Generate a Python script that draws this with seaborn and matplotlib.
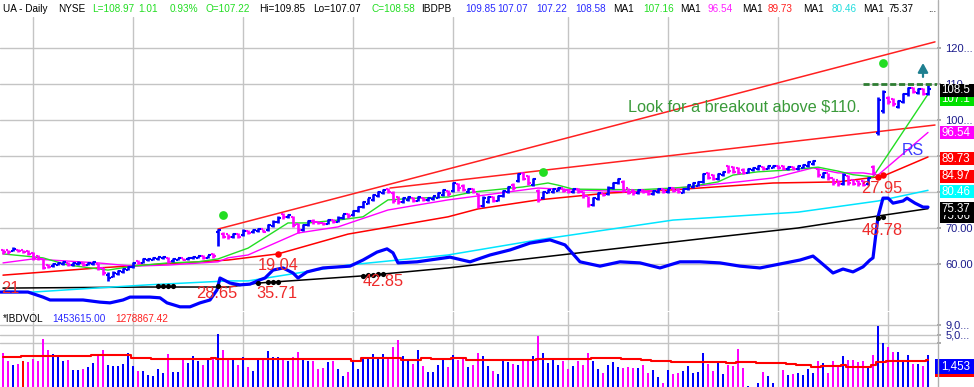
import numpy as np
import pandas as pd
import matplotlib
matplotlib.use("Agg")
import matplotlib.pyplot as plt
from matplotlib.patches import Rectangle
from matplotlib.lines import Line2D
import seaborn as sns

sns.set_theme(style="white")
plt.rcParams["font.family"] = ["Liberation Sans", "DejaVu Sans"]

# ---------------- data ----------------
direction = list("MMBMRMMMMM" "BBBMBBMBBM" "MBBBBBBMBB" "BBBMBBMBBB" "MBMBMMBMBM"
                 "BBMBBBMBMM" "BBMMMBMBBM" "BBBBBBBMMM" "BBMBMBBBBM" "BMMBMMBBMB"
                 "BBMBMMBMBB" "BBMMBMMMBB" "MBBBMMMBMM" "BBMBMMBBBB" "BMMBBMMMMB"
                 "BBMBBMMBMB" "BBBMBMMMBM" "MMMBMBBMMB" "BBMBMB")

highs = [64.2, 64.0, 64.6, 64.2, 64.0, 63.8, 63.2, 62.5, 61.8, 60.0,
         60.4, 60.6, 60.8, 60.6, 60.5, 60.7, 60.5, 60.6, 60.9, 60.2,
         59.2, 57.8, 58.0, 58.4, 58.8, 59.5, 60.6, 61.0, 61.6, 61.8,
         62.0, 62.0, 62.3, 62.0, 61.6, 61.8, 61.8, 62.0, 62.2, 62.3,
         62.4, 62.6, 63.0, 69.8, 68.8, 68.4, 68.5, 68.6, 69.6, 69.5,
         69.8, 70.0, 69.8, 71.0, 72.2, 73.2, 74.2, 74.0, 73.4, 71.5,
         71.2, 72.3, 72.4, 72.0, 71.8, 72.6, 72.6, 73.2, 74.0, 74.2,
         75.0, 76.2, 77.4, 78.4, 79.4, 80.2, 80.8, 81.2, 80.2, 79.0,
         78.6, 78.8, 78.6, 78.8, 78.6, 78.7, 79.0, 80.0, 80.8, 80.6,
         82.8, 82.6, 82.2, 81.1, 81.0, 79.8, 78.8, 79.0, 79.0, 79.2,
         80.6, 81.8, 82.4, 85.4, 85.6, 84.8, 84.0, 80.8, 80.4, 80.8,
         81.2, 81.4, 81.2, 80.8, 81.2, 81.0, 80.4, 79.0, 78.6, 80.0,
         79.8, 81.6, 82.8, 84.0, 83.2, 81.2, 80.8, 80.8, 80.8, 80.4,
         80.6, 81.0, 81.0, 81.2, 81.4, 81.0, 81.0, 82.2, 82.8, 83.0,
         85.4, 85.6, 85.0, 85.2, 85.8, 87.6, 87.2, 87.0, 86.6, 86.8,
         87.0, 87.4, 87.2, 87.4, 87.5, 87.4, 87.4, 87.3, 87.2, 87.4,
         87.8, 88.6, 89.0, 86.8, 85.6, 85.4, 84.0, 83.4, 85.2, 84.6,
         83.6, 83.4, 83.2, 84.2, 87.5, 106.4, 108.4, 106.6, 106.2, 105.6,
         107.6, 109.2, 109.2, 109.0, 109.0, 109.85]

lows = [62.8, 62.8, 63.5, 63.2, 63.0, 62.6, 61.2, 61.0, 58.5, 58.8,
        59.3, 59.6, 59.8, 59.5, 59.5, 59.8, 59.4, 59.6, 59.8, 58.4,
        57.0, 55.4, 56.3, 57.0, 57.5, 58.2, 59.0, 59.9, 60.2, 60.8,
        61.0, 61.2, 61.4, 60.3, 60.6, 61.0, 61.0, 61.1, 61.4, 61.6,
        61.4, 61.6, 61.8, 65.0, 67.2, 67.0, 67.3, 67.2, 67.8, 68.4,
        68.6, 68.9, 68.8, 69.2, 70.4, 71.4, 72.6, 72.8, 70.2, 68.6,
        69.2, 70.6, 71.2, 71.0, 70.8, 71.0, 71.5, 71.6, 72.6, 72.9,
        73.4, 74.4, 75.6, 76.6, 77.6, 78.6, 79.4, 79.8, 77.0, 76.6,
        77.0, 77.5, 77.2, 77.4, 77.4, 77.5, 77.9, 78.2, 78.9, 79.0,
        80.0, 80.4, 80.2, 79.8, 79.6, 75.6, 75.8, 77.0, 77.2, 77.4,
        78.6, 79.8, 80.6, 82.8, 83.2, 82.0, 81.8, 77.2, 78.0, 79.6,
        79.8, 80.2, 80.0, 79.6, 79.8, 79.8, 78.4, 75.8, 76.2, 77.8,
        78.8, 79.2, 80.8, 82.2, 80.0, 79.4, 79.2, 79.4, 79.6, 79.2,
        79.3, 79.8, 79.6, 79.8, 80.0, 79.6, 79.6, 80.6, 81.2, 81.6,
        82.6, 83.6, 83.2, 83.4, 84.4, 85.2, 85.2, 85.0, 85.0, 85.2,
        85.8, 86.2, 86.2, 86.3, 86.6, 86.4, 86.0, 86.1, 86.0, 86.2,
        86.6, 87.0, 87.6, 84.2, 84.0, 83.4, 82.0, 81.8, 81.9, 82.0,
        81.9, 81.8, 81.6, 82.0, 84.6, 95.8, 102.0, 104.4, 104.0, 103.2,
        104.6, 106.8, 107.4, 107.2, 106.9, 107.07]

opens = [63.8, 63.8, 63.6, 64.0, 63.8, 63.5, 63.0, 62.2, 61.5, 59.8,
         59.5, 59.8, 60.0, 60.4, 59.7, 60.0, 60.3, 59.8, 60.0, 60.0,
         59.0, 57.0, 56.5, 57.3, 57.8, 58.4, 59.2, 60.8, 60.4, 61.0,
         61.2, 61.4, 61.6, 61.8, 60.8, 61.2, 61.6, 61.3, 61.6, 61.8,
         62.2, 61.8, 62.8, 69.0, 68.4, 68.2, 67.5, 68.3, 68.0, 69.2,
         68.8, 69.1, 69.6, 69.4, 70.6, 71.6, 73.8, 73.0, 73.0, 71.0,
         69.5, 70.8, 72.0, 71.8, 71.5, 71.2, 72.3, 71.8, 72.8, 73.8,
         73.6, 74.6, 75.8, 76.8, 77.8, 78.8, 79.6, 80.8, 79.8, 78.5,
         77.2, 77.7, 78.4, 77.6, 78.3, 77.7, 78.1, 78.4, 79.1, 80.4,
         80.2, 82.2, 81.8, 80.0, 80.8, 79.5, 76.2, 77.3, 78.7, 77.6,
         78.8, 80.0, 82.0, 83.0, 85.2, 84.4, 82.0, 80.4, 78.2, 79.8,
         80.0, 80.4, 81.0, 80.5, 80.0, 80.8, 80.1, 78.8, 76.4, 78.0,
         79.6, 79.4, 81.0, 82.4, 82.8, 81.0, 80.5, 79.6, 80.6, 80.1,
         79.5, 80.0, 80.8, 80.0, 81.2, 80.6, 79.8, 80.8, 81.4, 81.8,
         82.8, 85.2, 84.6, 83.6, 84.6, 87.2, 87.0, 86.8, 86.2, 85.4,
         86.0, 86.4, 87.0, 86.5, 86.8, 87.2, 87.2, 86.3, 87.0, 86.4,
         86.8, 87.2, 87.8, 86.5, 84.2, 85.2, 83.8, 83.2, 82.2, 84.4,
         83.2, 83.0, 83.0, 82.2, 87.0, 96.5, 102.4, 106.2, 105.8, 103.5,
         104.9, 107.1, 109.0, 107.5, 108.7, 107.22]

closes = [63.2, 63.3, 64.3, 63.5, 63.2, 62.9, 61.6, 61.4, 59.0, 59.2,
          60.1, 60.3, 60.5, 59.8, 60.2, 60.4, 59.7, 60.3, 60.6, 58.8,
          57.4, 56.2, 57.6, 58.0, 58.5, 59.2, 60.3, 60.2, 61.3, 61.5,
          61.8, 61.9, 62.0, 60.6, 61.4, 61.6, 61.2, 61.8, 62.0, 62.2,
          61.7, 62.4, 62.1, 69.4, 67.6, 67.4, 68.2, 67.5, 69.2, 68.7,
          69.4, 69.6, 69.0, 70.7, 71.8, 72.9, 73.0, 73.6, 70.8, 69.4,
          70.8, 71.9, 71.6, 71.3, 71.0, 72.3, 71.8, 72.9, 73.8, 73.2,
          74.8, 75.9, 77.1, 78.2, 79.1, 80.0, 80.5, 80.0, 77.6, 77.2,
          78.2, 78.5, 77.6, 78.5, 77.7, 78.4, 78.8, 79.7, 80.5, 79.4,
          82.4, 81.0, 80.6, 80.9, 79.9, 76.2, 78.3, 78.7, 77.6, 78.9,
          80.3, 81.5, 81.0, 85.0, 83.6, 82.4, 83.6, 77.8, 80.0, 80.5,
          80.9, 81.1, 80.3, 79.9, 80.9, 80.1, 78.8, 76.4, 78.2, 79.6,
          79.1, 81.2, 82.5, 83.7, 80.5, 79.8, 79.6, 80.5, 79.9, 79.5,
          80.3, 80.8, 79.9, 81.0, 80.4, 79.9, 80.8, 81.9, 82.5, 82.7,
          85.0, 84.0, 83.6, 84.9, 85.5, 85.8, 85.6, 85.4, 85.3, 86.4,
          86.7, 87.1, 86.5, 87.2, 87.3, 86.7, 86.3, 87.0, 86.3, 87.1,
          87.6, 88.3, 88.7, 84.6, 85.2, 83.8, 82.4, 82.1, 84.8, 82.6,
          82.3, 82.2, 82.0, 83.8, 85.2, 105.5, 107.8, 104.9, 104.4, 105.2,
          107.2, 108.9, 107.8, 108.7, 107.3, 108.58]

volume_m = [1.63, 1.00, 0.79, 0.84, 1.00, 0.95, 1.13, 1.00, 3.81, 1.95,
            1.53, 1.28, 1.00, 1.07, 0.58, 0.58, 0.62, 0.70, 0.89, 1.44,
            1.95, 0.79, 0.74, 0.74, 0.84, 1.63, 0.74, 0.55, 0.55, 0.43,
            0.41, 0.62, 0.49, 1.53, 0.52, 0.52, 1.07, 0.89, 1.36, 1.00,
            0.79, 1.13, 1.13, 5.15, 1.95, 1.13, 1.07, 0.79, 1.28, 0.70,
            0.55, 1.07, 1.13, 1.84, 1.28, 1.28, 1.13, 1.00, 1.28, 1.73,
            1.20, 1.00, 1.00, 0.62, 0.66, 0.95, 1.00, 0.62, 0.41, 0.52,
            1.00, 0.62, 1.20, 1.28, 1.53, 1.20, 1.53, 1.13, 2.35, 3.58,
            1.33, 1.02, 0.84, 1.92, 0.75, 0.52, 0.52, 0.80, 1.13, 0.70,
            1.48, 1.09, 1.16, 0.70, 0.80, 1.59, 1.33, 0.75, 0.55, 0.45,
            1.16, 0.96, 0.84, 0.80, 1.09, 1.02, 1.40, 4.61, 1.59, 0.90,
            1.09, 0.80, 1.02, 0.62, 0.75, 1.02, 0.80, 1.59, 1.02, 0.62,
            0.48, 0.80, 0.96, 0.70, 0.66, 0.70, 0.66, 0.66, 0.80, 0.48,
            0.58, 0.38, 0.27, 0.58, 0.45, 0.48, 0.55, 0.75, 0.48, 0.52,
            1.59, 0.84, 0.55, 1.02, 0.45, 0.80, 0.75, 2.04, 0.66, 0.22,
            0.21, 0.27, 0.52, 0.40, 0.26, 0.21, 0.58, 0.43, 0.45, 0.48,
            0.43, 0.62, 0.48, 1.02, 0.90, 0.48, 1.02, 0.70, 1.40, 1.09,
            1.09, 0.96, 1.02, 0.75, 1.48, 8.30, 2.97, 2.31, 1.69, 1.78,
            1.09, 1.48, 0.84, 0.84, 0.75, 1.45]

# 50-day average volume (step line): segment start bars and levels (millions)
avgvol_start = [0, 4, 18, 26, 30, 42, 43, 70, 72, 80, 84, 86, 90, 93, 107, 118, 124,
                128, 130, 134, 145, 147, 151, 157, 159, 162, 164, 168, 169, 174, 175, 177, 185]
avgvol_level = [1.28, 1.36, 1.44, 1.20, 1.13, 1.24, 1.13, 1.00, 1.20, 1.10, 1.23, 1.13, 1.23,
                1.07, 1.13, 1.23, 1.13, 1.04, 1.00, 0.96, 0.88, 0.96, 0.89, 0.84, 0.78, 0.71,
                0.74, 0.78, 0.71, 0.79, 0.96, 1.00, 1.10]

# moving averages (vertices: bar index, price)
ma10_idx = [0, 8, 13, 21, 26, 33, 39, 43, 49, 57, 61, 67, 72, 77, 83, 89, 94, 104, 109, 111,
            114, 127, 134, 137, 143, 146, 151, 157, 163, 167, 170, 174, 185]
ma10_val = [62.8, 61.7, 59.7, 58.3, 59.4, 60.3, 60.6, 61.4, 64.4, 71.4, 71.4, 72.2, 73.1, 77.8,
            78.3, 78.6, 80.0, 81.4, 82.5, 81.9, 80.8, 80.6, 81.1, 81.4, 82.8, 84.7, 85.6, 86.1,
            86.9, 85.8, 84.8, 84.2, 107.16]
ma21_idx = [0, 6, 19, 26, 33, 43, 45, 49, 59, 67, 77, 89, 101, 107, 114, 127, 137, 147, 154,
            162, 167, 172, 175, 185]
ma21_val = [60.3, 61.4, 60.3, 59.4, 59.7, 60.6, 61.7, 62.5, 68.6, 70.3, 75.0, 77.8, 80.0, 81.1,
            80.6, 80.0, 81.4, 82.8, 83.9, 86.7, 85.3, 85.3, 84.7, 96.54]
ma50_idx = [0, 19, 45, 55, 69, 89, 95, 107, 121, 134, 154, 167, 176, 185]
ma50_val = [56.9, 58.9, 61.1, 62.8, 68.3, 73.1, 75.3, 77.8, 79.7, 80.6, 82.5, 82.8, 84.4, 89.73]
ma150_idx = [0, 6, 16, 29, 45, 49, 69, 89, 107, 134, 159, 175, 185]
ma150_val = [52.5, 52.2, 53.1, 54.2, 55.3, 55.3, 59.7, 62.5, 66.7, 72.2, 74.4, 77.5, 80.46]
ma200_idx = [0, 29, 45, 51, 72, 89, 139, 159, 167, 185]
ma200_val = [53.3, 53.6, 53.6, 54.7, 56.7, 58.9, 66.9, 70.0, 71.7, 75.37]

# relative strength line (plotted on price pane)
rs_idx = [-0.6, 5, 8, 9.4, 16, 19.4, 21.4, 24, 25.4, 29.4, 31.4, 32.8, 35.4, 37.4, 39.4, 41.4,
          42.8, 43.4, 45.4, 47.4, 49.4, 51.4, 52.4, 54, 56, 58, 59, 60.8, 64, 69.4, 72, 74.8,
          76.8, 78, 79, 82.8, 89.4, 93.4, 97.4, 101.4, 105.4, 109.4, 112.4, 115.4, 119.4, 123.4,
          127.4, 131.4, 135.4, 139.4, 143.4, 147.4, 151.4, 155.4, 159.4, 162, 163.4, 166, 168,
          170, 172, 173.4, 174, 175, 176, 177, 178, 180, 180.8, 182.4, 184, 185]
rs_val = [52.2, 52.2, 50.8, 50.0, 50.0, 49.4, 49.2, 50.0, 50.8, 50.8, 50.6, 49.2, 48.1, 48.1,
          49.2, 50.0, 52.8, 56.1, 54.7, 54.2, 54.4, 55.6, 56.1, 58.3, 58.9, 57.5, 56.1, 57.8,
          58.9, 59.4, 61.1, 63.3, 64.2, 63.1, 60.3, 60.6, 61.9, 60.6, 62.5, 63.9, 65.8, 66.7,
          65.3, 60.6, 59.4, 60.6, 60.3, 58.9, 60.6, 60.6, 60.3, 59.4, 58.9, 60.0, 61.1, 62.2,
          60.6, 57.5, 58.6, 57.8, 59.2, 61.1, 61.7, 73.1, 78.3, 78.3, 76.9, 77.5, 78.3, 76.9,
          75.8, 75.8]

# trend lines (bar index, price)
upper_idx, upper_val = [43, 186.4], [69.7, 121.7]
middle_idx, middle_val = [77.4, 186.4], [81.1, 98.6]
breakout_level = 110.0

green_dot_idx, green_dot_val = [44, 108, 176], [73.6, 85.6, 115.8]
red_dot_idx, red_dot_val = [55, 175, 176], [62.8, 84.2, 84.7]
black_dot_idx = [31, 32, 33, 34, 43, 51, 53, 54, 55, 72, 73, 74, 75, 76, 175, 176]
black_dot_val = [53.8, 53.8, 53.8, 53.8, 53.9, 54.7, 55.0, 55.0, 55.1, 56.8, 56.9, 57.0,
                 57.1, 57.2, 72.9, 73.1]

red_notes = ["21", "28.65", "35.71", "42.85", "19.04", "27.95", "48.78"]
red_note_idx = [-0.4, 42.8, 54.8, 76, 55, 175.8, 175.8]
red_note_val = [53.1, 51.7, 51.9, 55.0, 59.7, 81.1, 69.4]

month_idx = [6, 26, 48, 70, 90, 113, 133, 155, 177]
price_ticks = [60, 70, 80, 90, 100, 110, 120]
price_tick_labels = ["60.00", "70.00", "", "", "100...", "110...", "120..."]
vol_ticks = [3, 5, 9]
vol_tick_labels = ["", "5,0...", "9,0..."]

header = [("UA - Daily", 3, "k"), ("NYSE", 58, "k"), ("L=108.97", 92, "g"), ("1.01", 138, "g"),
          ("0.93%", 170, "g"), ("O=107.22", 205, "g"), ("Hi=109.85", 259, "k"),
          ("Lo=107.07", 313, "k"), ("C=108.58", 372, "g"), ("IBDPB", 421, "k"),
          ("109.85", 465, "b"), ("107.07", 497, "b"), ("107.22", 536, "b"), ("108.58", 575, "b"),
          ("MA1", 613, "k"), ("107.16", 643, "g"), ("MA1", 680, "k"), ("96.54", 708, "m"),
          ("MA1", 742, "k"), ("89.73", 768, "r"), ("MA1", 803, "k"), ("80.46", 832, "c"),
          ("MA1", 863, "k"), ("75.37", 889, "k"), ("...", 928, "k")]

# price label boxes on the right: text, background, box centre (price units),
# and whether a later box partly covers it
price_boxes = [("107.1", "#00e000", 105.8, True), ("108.5", "#000000", 108.3, False),
               ("96.54", "#ff00ff", 96.4, False), ("89.73", "#ff0000", 89.2, False),
               ("84.97", "#ff0000", 84.4, False), ("80.46", "#00ffff", 80.0, False),
               ("75.06", "#000000", 73.3, True), ("75.37", "#000000", 75.3, False)]

# ---------------- figure ----------------
W, H = 974, 387
fig = plt.figure(figsize=(W / 100, H / 100), dpi=100)
fig.patch.set_facecolor("white")

def fx(px):
    return px / W

def fy(py):
    return 1 - py / H

PRICE_TOP, PRICE_BOT, PLOT_RIGHT, VOL_TOP = 17, 311, 937, 312
ax = fig.add_axes([0, fy(PRICE_BOT), fx(PLOT_RIGHT), (PRICE_BOT - PRICE_TOP) / H])
axv = fig.add_axes([0, 0, fx(PLOT_RIGHT), (H - VOL_TOP) / H])

COL = {"B": "#0000ff", "M": "#ff00ff", "R": "#ff0000"}
idx = np.arange(len(closes))
pcol = [COL["M"] if d == "R" else COL[d] for d in direction]

df = pd.DataFrame({"bar": idx, "high": highs, "low": lows, "open": opens, "close": closes,
                   "vol": volume_m, "dir": direction})

for a in (ax, axv):
    a.set_facecolor("white")
    for s in a.spines.values():
        s.set_visible(False)
    a.grid(True, axis="both", color="#c4c4c4", lw=1.0)
    a.set_axisbelow(True)

# ---- price pane ----
ax.set_ylim(46.94, 128.61)
ax.yaxis.tick_right()
ax.set_yticks(price_ticks)
ax.set_yticklabels(price_tick_labels)
ax.tick_params(axis="y", length=3, color="#a0a0a0", labelcolor="#1c1c8c", labelsize=8,
               pad=3, direction="out")

# trend lines
ax.plot(upper_idx, upper_val, color="#ff2020", lw=1.1, zorder=2)
ax.plot(middle_idx, middle_val, color="#ff2020", lw=1.1, zorder=2)

# moving averages
sns.lineplot(x=ma200_idx, y=ma200_val, ax=ax, color="#000000", lw=1.1, zorder=2)
sns.lineplot(x=ma150_idx, y=ma150_val, ax=ax, color="#00e5ff", lw=1.1, zorder=2)
sns.lineplot(x=ma50_idx, y=ma50_val, ax=ax, color="#ff0000", lw=1.1, zorder=2)
sns.lineplot(x=ma21_idx, y=ma21_val, ax=ax, color="#ff00ff", lw=1.0, zorder=2)
sns.lineplot(x=ma10_idx, y=ma10_val, ax=ax, color="#22dd22", lw=1.0, zorder=2)

# RS line
sns.lineplot(x=rs_idx, y=rs_val, ax=ax, color="#0000ff", lw=2.3, zorder=3)

# OHLC bars
ax.vlines(df["bar"], df["low"], df["high"], colors=pcol, lw=1.9, zorder=4)
ax.hlines(df["open"], df["bar"] - 0.5, df["bar"], colors=pcol, lw=1.5, zorder=4)
ax.hlines(df["close"], df["bar"], df["bar"] + 0.5, colors=pcol, lw=1.5, zorder=4)

# dots
ax.scatter(black_dot_idx, black_dot_val, s=14, color="#000000", zorder=5, linewidths=0)
ax.scatter(red_dot_idx, red_dot_val, s=22, color="#ff0000", zorder=5, linewidths=0)
ax.scatter(green_dot_idx, green_dot_val, s=40, color="#22dd22", zorder=5, linewidths=0)

# breakout line + arrow
ax.hlines(breakout_level, 172, 186.8, colors="#2e7d32", lw=2.0, linestyles=(0, (2.2, 1.0)),
          zorder=5)
ax.annotate("", xy=(184, 116.6), xytext=(184, 111.2),
            arrowprops=dict(arrowstyle="-|>,head_width=0.25,head_length=0.45",
                            color="#1f7f90", lw=1.6), zorder=6)

for t, xi, yv in zip(red_notes, red_note_idx, red_note_val):
    ax.text(xi, yv, t, color="#ee2a2a", fontsize=11.8, ha="left" if t == "21" else "center",
            va="center", zorder=6)
ax.text(182, 91.4, "RS", color="#3a3aff", fontsize=11.5, ha="center", va="center", zorder=6)
ax.text(148.2, 103.6, "Look for a breakout above $110.", color="#3a9a3a", fontsize=11.7,
        ha="center", va="center", zorder=6)

# ---- volume pane ----
sns.barplot(data=df, x="bar", y="vol", hue="dir", palette=COL, dodge=False, width=0.55,
            native_scale=True, errorbar=None, legend=False, saturation=1, ax=axv, zorder=3,
            linewidth=0, edgecolor="none")
axv.set_yscale("log")
axv.set_ylim(0.2084, 19.53)
axv.set_xlabel("")
axv.set_ylabel("")
axv.yaxis.tick_right()
axv.yaxis.set_minor_locator(matplotlib.ticker.NullLocator())
axv.set_yticks(vol_ticks)
axv.set_yticklabels(vol_tick_labels)
axv.tick_params(axis="y", length=3, color="#a0a0a0", labelcolor="#1c1c8c", labelsize=8,
                pad=3, direction="out")
ax.set_xlabel("")
ax.set_ylabel("")
for a in (ax, axv):
    a.set_xlim(-0.6, 186.8)
    a.set_xticks(month_idx)
    a.set_xticklabels([])
    a.tick_params(axis="x", length=0)

seg_len = np.diff(avgvol_start + [len(closes)])
avg_vol = np.repeat(avgvol_level, seg_len)
axv.step(idx, avg_vol, where="mid", color="#ff0000", lw=1.5, zorder=4)

# ---- header & labels ----
HC = {"k": "#000000", "g": "#22dd22", "b": "#2a2aff", "m": "#ff22ff", "r": "#ff2020",
      "c": "#22dddd"}
for s, xp, c in header:
    fig.text(fx(xp), fy(9), s, color=HC[c], fontsize=7.2, ha="left", va="center")

fig.text(fx(3), fy(319), "*IBDVOL", color="#000000", fontsize=7.2, ha="left", va="center")
fig.text(fx(52), fy(319), "1453615.00", color="#2a2aff", fontsize=7.2, ha="left", va="center")
fig.text(fx(115), fy(319), "1278867.42", color="#ff2020", fontsize=7.2, ha="left", va="center")

# right-hand border line
fig.add_artist(Line2D([fx(938), fx(938)], [0, 1], color="#b0b0b0", lw=1.0))

# price boxes (later boxes drawn on top; partly covered texts are clipped to the visible strip)
def px_of_price(p):
    lo, hi = ax.get_ylim()
    return PRICE_BOT - (p - lo) / (hi - lo) * (PRICE_BOT - PRICE_TOP)

centres = [px_of_price(pv) for _, _, pv, _ in price_boxes]
for k, (t, bg, pv, covered) in enumerate(price_boxes):
    yc = centres[k]
    r = Rectangle((fx(940), fy(yc + 6.5)), fx(34), 13 / H, facecolor=bg, edgecolor="none",
                  transform=fig.transFigure)
    fig.add_artist(r)
    if covered:
        yo = centres[k + 1]
        if yo < yc:
            top, bot = yo + 6.5, yc + 6.5
        else:
            top, bot = yc - 6.5, yo - 6.5
        clip = Rectangle((fx(940), fy(bot)), fx(34), (bot - top) / H,
                         transform=fig.transFigure, facecolor="none", edgecolor="none")
        txt = fig.text(fx(941), fy(yc), t, color="white", fontsize=8.3, ha="left",
                       va="center", clip_on=True)
        txt.set_clip_path(clip)
    else:
        fig.text(fx(941), fy(yc), t, color="white", fontsize=8.3, ha="left", va="center")

# volume boxes
fig.add_artist(Rectangle((fx(935), fy(376.5)), fx(39), 4 / H, facecolor="#ff0000",
                         edgecolor="none"))
fig.add_artist(Rectangle((fx(935), fy(374)), fx(39), 15 / H, facecolor="#0000ff",
                         edgecolor="none"))
fig.text(fx(941), fy(366.5), "1,453", color="white", fontsize=8.3, ha="left", va="center")

fig.savefig("out.png", dpi=100, facecolor="white")
